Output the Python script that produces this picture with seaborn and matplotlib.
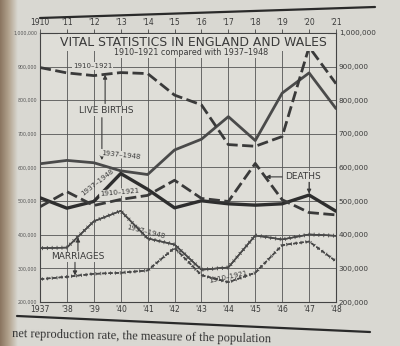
import numpy as np
import pandas as pd
import matplotlib
matplotlib.use("Agg")
import matplotlib.pyplot as plt
import matplotlib.patheffects as pe
import seaborn as sns

# ---------------- data ----------------
years_recent = ["1937", "'38", "'39", "'40", "'41", "'42", "'43", "'44", "'45", "'46", "'47", "'48"]
years_early = ["1910", "'11", "'12", "'13", "'14", "'15", "'16", "'17", "'18", "'19", "'20", "'21"]

births_1937_48 = [611000, 621000, 614000, 590000, 579000, 652000, 684000, 751000, 680000, 821000, 881000, 775000]
births_1910_21 = [897000, 881000, 873000, 882000, 879000, 815000, 786000, 668000, 663000, 692000, 958000, 849000]
deaths_1937_48 = [510000, 479000, 499000, 582000, 535000, 480000, 501000, 492000, 488000, 492000, 518000, 470000]
deaths_1910_21 = [483000, 528000, 487000, 505000, 517000, 562000, 508000, 499000, 612000, 504000, 466000, 459000]
marr_1937_48 = [360000, 362000, 440000, 471000, 389000, 371000, 296000, 303000, 398000, 386000, 401000, 397000]
marr_1910_21 = [268000, 275000, 284000, 287000, 294000, 361000, 280000, 259000, 287000, 369000, 380000, 321000]

y_ticks = [200000, 300000, 400000, 500000, 600000, 700000, 800000, 900000, 1000000]
y_labels = ["200,000", "300,000", "400,000", "500,000", "600,000", "700,000", "800,000", "900,000", "1,000,000"]

# ---------------- style ----------------
PAPER = "#d9d8d2"
INK = "#3a3a3a"
sns.set_theme(style="white")
plt.rcParams["font.family"] = ["DejaVu Sans"]

fig = plt.figure(figsize=(4.0, 3.46), dpi=100, facecolor=PAPER)

# book binding shadow at the left edge
bax = fig.add_axes([0, 0, 0.045, 1])
grad = np.linspace(0, 1, 50).reshape(1, -1)
bax.imshow(grad, aspect="auto", cmap=matplotlib.colors.LinearSegmentedColormap.from_list(
    "b", ["#8a7560", "#b3a48f", PAPER]), extent=[0, 1, 0, 1])
bax.axis("off")

ax = fig.add_axes([0.10, 0.127, 0.74, 0.778])
ax.set_facecolor("#dfded8")

x = np.arange(len(years_recent))
df = pd.DataFrame({
    "x": np.tile(x, 6),
    "value": births_1937_48 + births_1910_21 + deaths_1937_48 + deaths_1910_21 + marr_1937_48 + marr_1910_21,
    "series": np.repeat(["b37", "b10", "d37", "d10", "m37", "m10"], len(x)),
})

def draw(key, **kw):
    sub = df[df["series"] == key]
    sns.lineplot(data=sub, x="x", y="value", ax=ax, estimator=None, legend=False, **kw)

draw("b37", color="#4a4a4a", lw=2.0, ls="-", zorder=4)
draw("b10", color="#3a3a3a", lw=2.0, ls=(0, (4, 1.6)), zorder=4)
draw("d37", color="#2e2e2e", lw=2.4, ls="-", zorder=4)
draw("d10", color="#3a3a3a", lw=2.0, ls=(0, (4, 1.6)), zorder=4)
ticked = [pe.withTickedStroke(angle=90, spacing=3.5, length=0.35, linewidth=0.6, foreground="#444"),
          pe.withTickedStroke(angle=-90, spacing=3.5, length=0.35, linewidth=0.6, foreground="#444"),
          pe.Normal()]
draw("m37", color="#4a4a4a", lw=1.0, ls="-", zorder=4, path_effects=ticked)
draw("m10", color="#4a4a4a", lw=1.0, ls=(0, (3, 1.5)), zorder=4, path_effects=ticked)

ax.set_xlim(0, 11)
ax.set_ylim(200000, 1000000)
ax.set_xticks(x)
ax.set_xticklabels(years_recent, fontsize=5.5, color=INK)
ax.set_yticks(y_ticks)
ax.set_yticklabels(y_labels)
ax.set_xlabel("")
ax.set_ylabel("")
ax.grid(True, color="#555555", lw=0.6)
for s in ax.spines.values():
    s.set_color("#444444")
    s.set_linewidth(0.8)
ax.tick_params(axis="x", length=0, pad=2)
ax.tick_params(axis="y", length=0, labelleft=True, labelright=True, pad=2)
for t in ax.yaxis.get_major_ticks():
    t.label1.set_fontsize(3.4)
    t.label1.set_color("#555555")
    t.label2.set_fontsize(5.2)
    t.label2.set_color(INK)

top = ax.secondary_xaxis("top")
top.set_xticks(x)
top.set_xticklabels(years_early, fontsize=5.5, color=INK)
top.tick_params(length=3, width=0.6, color="#444", pad=1)
top.spines["top"].set_visible(False)

# ---------------- texts ----------------
bg = dict(boxstyle="square,pad=0.1", fc="#dfded8", ec="none")
ax.text(0.517, 0.965, "VITAL STATISTICS IN ENGLAND AND WALES", transform=ax.transAxes,
        ha="center", va="center", fontsize=8.9, color=INK, bbox=dict(boxstyle="square,pad=0.15", fc="#dfded8", ec="none"), zorder=6)
ax.text(0.51, 0.928, "1910–1921 compared with 1937–1948", transform=ax.transAxes,
        ha="center", va="center", fontsize=5.8, color=INK, bbox=bg, zorder=6)

ax.text(1.95, 902000, "1910–1921", fontsize=5, color=INK, ha="center", va="center", bbox=bg, zorder=6)
ax.text(2.45, 768000, "LIVE BIRTHS", fontsize=6.5, color=INK, ha="center", va="center", bbox=bg, zorder=6)
arw = dict(arrowstyle="-|>", lw=0.8, color=INK, mutation_scale=6, shrinkA=0, shrinkB=0)
ax.annotate("", xy=(2.42, 876000), xytext=(2.42, 790000), arrowprops=arw, zorder=6)
ax.annotate("", xy=(2.3, 622000), xytext=(2.3, 748000), arrowprops=arw, zorder=6)
ax.text(3.0, 638000, "1937–1948", fontsize=5, color=INK, ha="center", va="center", rotation=-6, bbox=bg, zorder=6)

ax.text(2.15, 556000, "1937–1948", fontsize=5, color=INK, ha="center", va="center", rotation=38, zorder=6)
ax.text(2.95, 526000, "1910–1921", fontsize=5, color=INK, ha="center", va="center", rotation=5, bbox=bg, zorder=6)
ax.text(9.78, 572000, "DEATHS", fontsize=6.5, color=INK, ha="center", va="center", bbox=bg, zorder=6)
ax.annotate("", xy=(8.38, 572000), xytext=(9.0, 572000), arrowprops=arw, zorder=6)
ax.annotate("", xy=(10.0, 522000), xytext=(10.0, 556000), arrowprops=arw, zorder=6)

ax.text(1.41, 334000, "MARRIAGES", fontsize=6.5, color=INK, ha="center", va="center", bbox=bg, zorder=6)
ax.annotate("", xy=(1.41, 392000), xytext=(1.41, 352000), arrowprops=arw, zorder=6)
ax.annotate("", xy=(1.3, 279000), xytext=(1.3, 318000), arrowprops=arw, zorder=6)
ax.text(3.95, 410000, "1937–1948", fontsize=5, color=INK, ha="center", va="center", rotation=-14, zorder=6)
ax.text(7.0, 275000, "1910–1921", fontsize=5, color=INK, ha="center", va="center", rotation=12, zorder=6)

# ---------------- page decorations ----------------
fig.add_artist(plt.Line2D([40 / 400, 375 / 400], [1 - 18 / 346, 1 - 7 / 346], color="#2a2a2a", lw=1.6))
fig.add_artist(plt.Line2D([17 / 400, 370 / 400], [1 - 316 / 346, 1 - 332 / 346], color="#2a2a2a", lw=1.6))
fig.text(12 / 400, 1 - 345 / 346, "net reproduction rate, the measure of the population",
         fontsize=9, family="Liberation Serif", color="#333333", ha="left", va="bottom", rotation=-1.2)

fig.savefig("out.png", dpi=100, facecolor=PAPER)
